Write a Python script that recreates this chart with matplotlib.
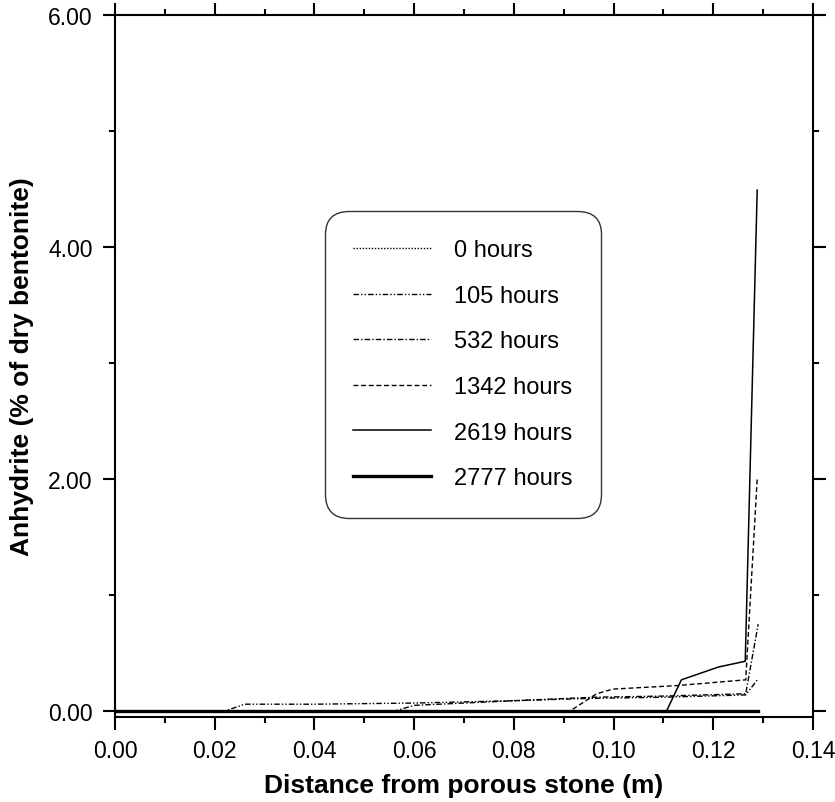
import numpy as np
import matplotlib.pyplot as plt
from matplotlib.ticker import MultipleLocator, FormatStrFormatter

plt.rcParams['font.family'] = ['Liberation Sans', 'DejaVu Sans']

# anhydrite profiles
labels = ['0 hours', '105 hours', '532 hours', '1342 hours', '2619 hours', '2777 hours']

x_0 = [0.0, 0.129]
y_0 = [0.0, 0.0]

x_105 = [0.0, 0.022, 0.026, 0.04, 0.06, 0.08, 0.095, 0.11, 0.1265, 0.129]
y_105 = [0.0, 0.0, 0.06, 0.06, 0.07, 0.09, 0.11, 0.12, 0.14, 0.28]

x_532 = [0.0, 0.056, 0.060, 0.08, 0.096, 0.11, 0.1265, 0.129]
y_532 = [0.0, 0.0, 0.05, 0.09, 0.12, 0.13, 0.15, 0.75]

x_1342 = [0.0, 0.0912, 0.0966, 0.0998, 0.1126, 0.1265, 0.1288]
y_1342 = [0.0, 0.0, 0.15, 0.19, 0.22, 0.27, 2.0]

x_2619 = [0.0, 0.1106, 0.1136, 0.121, 0.1264, 0.1288]
y_2619 = [0.0, 0.0, 0.27, 0.38, 0.43, 4.49]

x_2777 = [0.0, 0.129]
y_2777 = [0.0, 0.0]

fig = plt.figure(figsize=(8.35, 8.03), dpi=100)
ax = fig.add_axes([0.1377, 0.1059, 0.836, 0.8742])

ax.plot(x_0, y_0, color='black', lw=1.0, dashes=(1, 1.2), label=labels[0])
ax.plot(x_105, y_105, color='black', lw=1.0, dashes=(4, 1.5, 1, 1.5, 1, 1.5), label=labels[1])
ax.plot(x_532, y_532, color='black', lw=1.0, dashes=(4, 1.5, 1, 1.5), label=labels[2])
ax.plot(x_1342, y_1342, color='black', lw=1.0, dashes=(3.5, 2), label=labels[3])
ax.plot(x_2619, y_2619, color='black', lw=1.1, label=labels[4])
ax.plot(x_2777, y_2777, color='black', lw=2.4, label=labels[5])

ax.set_xlim(0, 0.14)
ax.set_ylim(-0.05, 6.0)

ax.xaxis.set_major_locator(MultipleLocator(0.02))
ax.xaxis.set_minor_locator(MultipleLocator(0.01))
ax.yaxis.set_major_locator(MultipleLocator(2))
ax.yaxis.set_minor_locator(MultipleLocator(1))
ax.xaxis.set_major_formatter(FormatStrFormatter('%.2f'))
ax.yaxis.set_major_formatter(FormatStrFormatter('%.2f'))

for s in ax.spines.values():
    s.set_linewidth(1.5)
ax.tick_params(which='both', direction='out', top=True, right=True,
               width=1.5, labelsize=16.5, pad=7)
ax.tick_params(which='major', length=9)
ax.tick_params(which='minor', length=4.5)

ax.set_xlabel('Distance from porous stone (m)', fontsize=19, fontweight='bold', labelpad=8)
ax.set_ylabel('Anhydrite (% of dry bentonite)', fontsize=19, fontweight='bold', labelpad=10)

leg = ax.legend(loc='upper left', bbox_to_anchor=(0.301, 0.721), fontsize=17,
                handlelength=3.3, handletextpad=0.95, labelspacing=1.0,
                borderpad=1.2, borderaxespad=0, fancybox=True, framealpha=1,
                edgecolor='#333333')
leg.get_frame().set_linewidth(1.0)
leg.get_frame().set_boxstyle('round', pad=0.0, rounding_size=1.0)

fig.savefig('out.png', dpi=100)
